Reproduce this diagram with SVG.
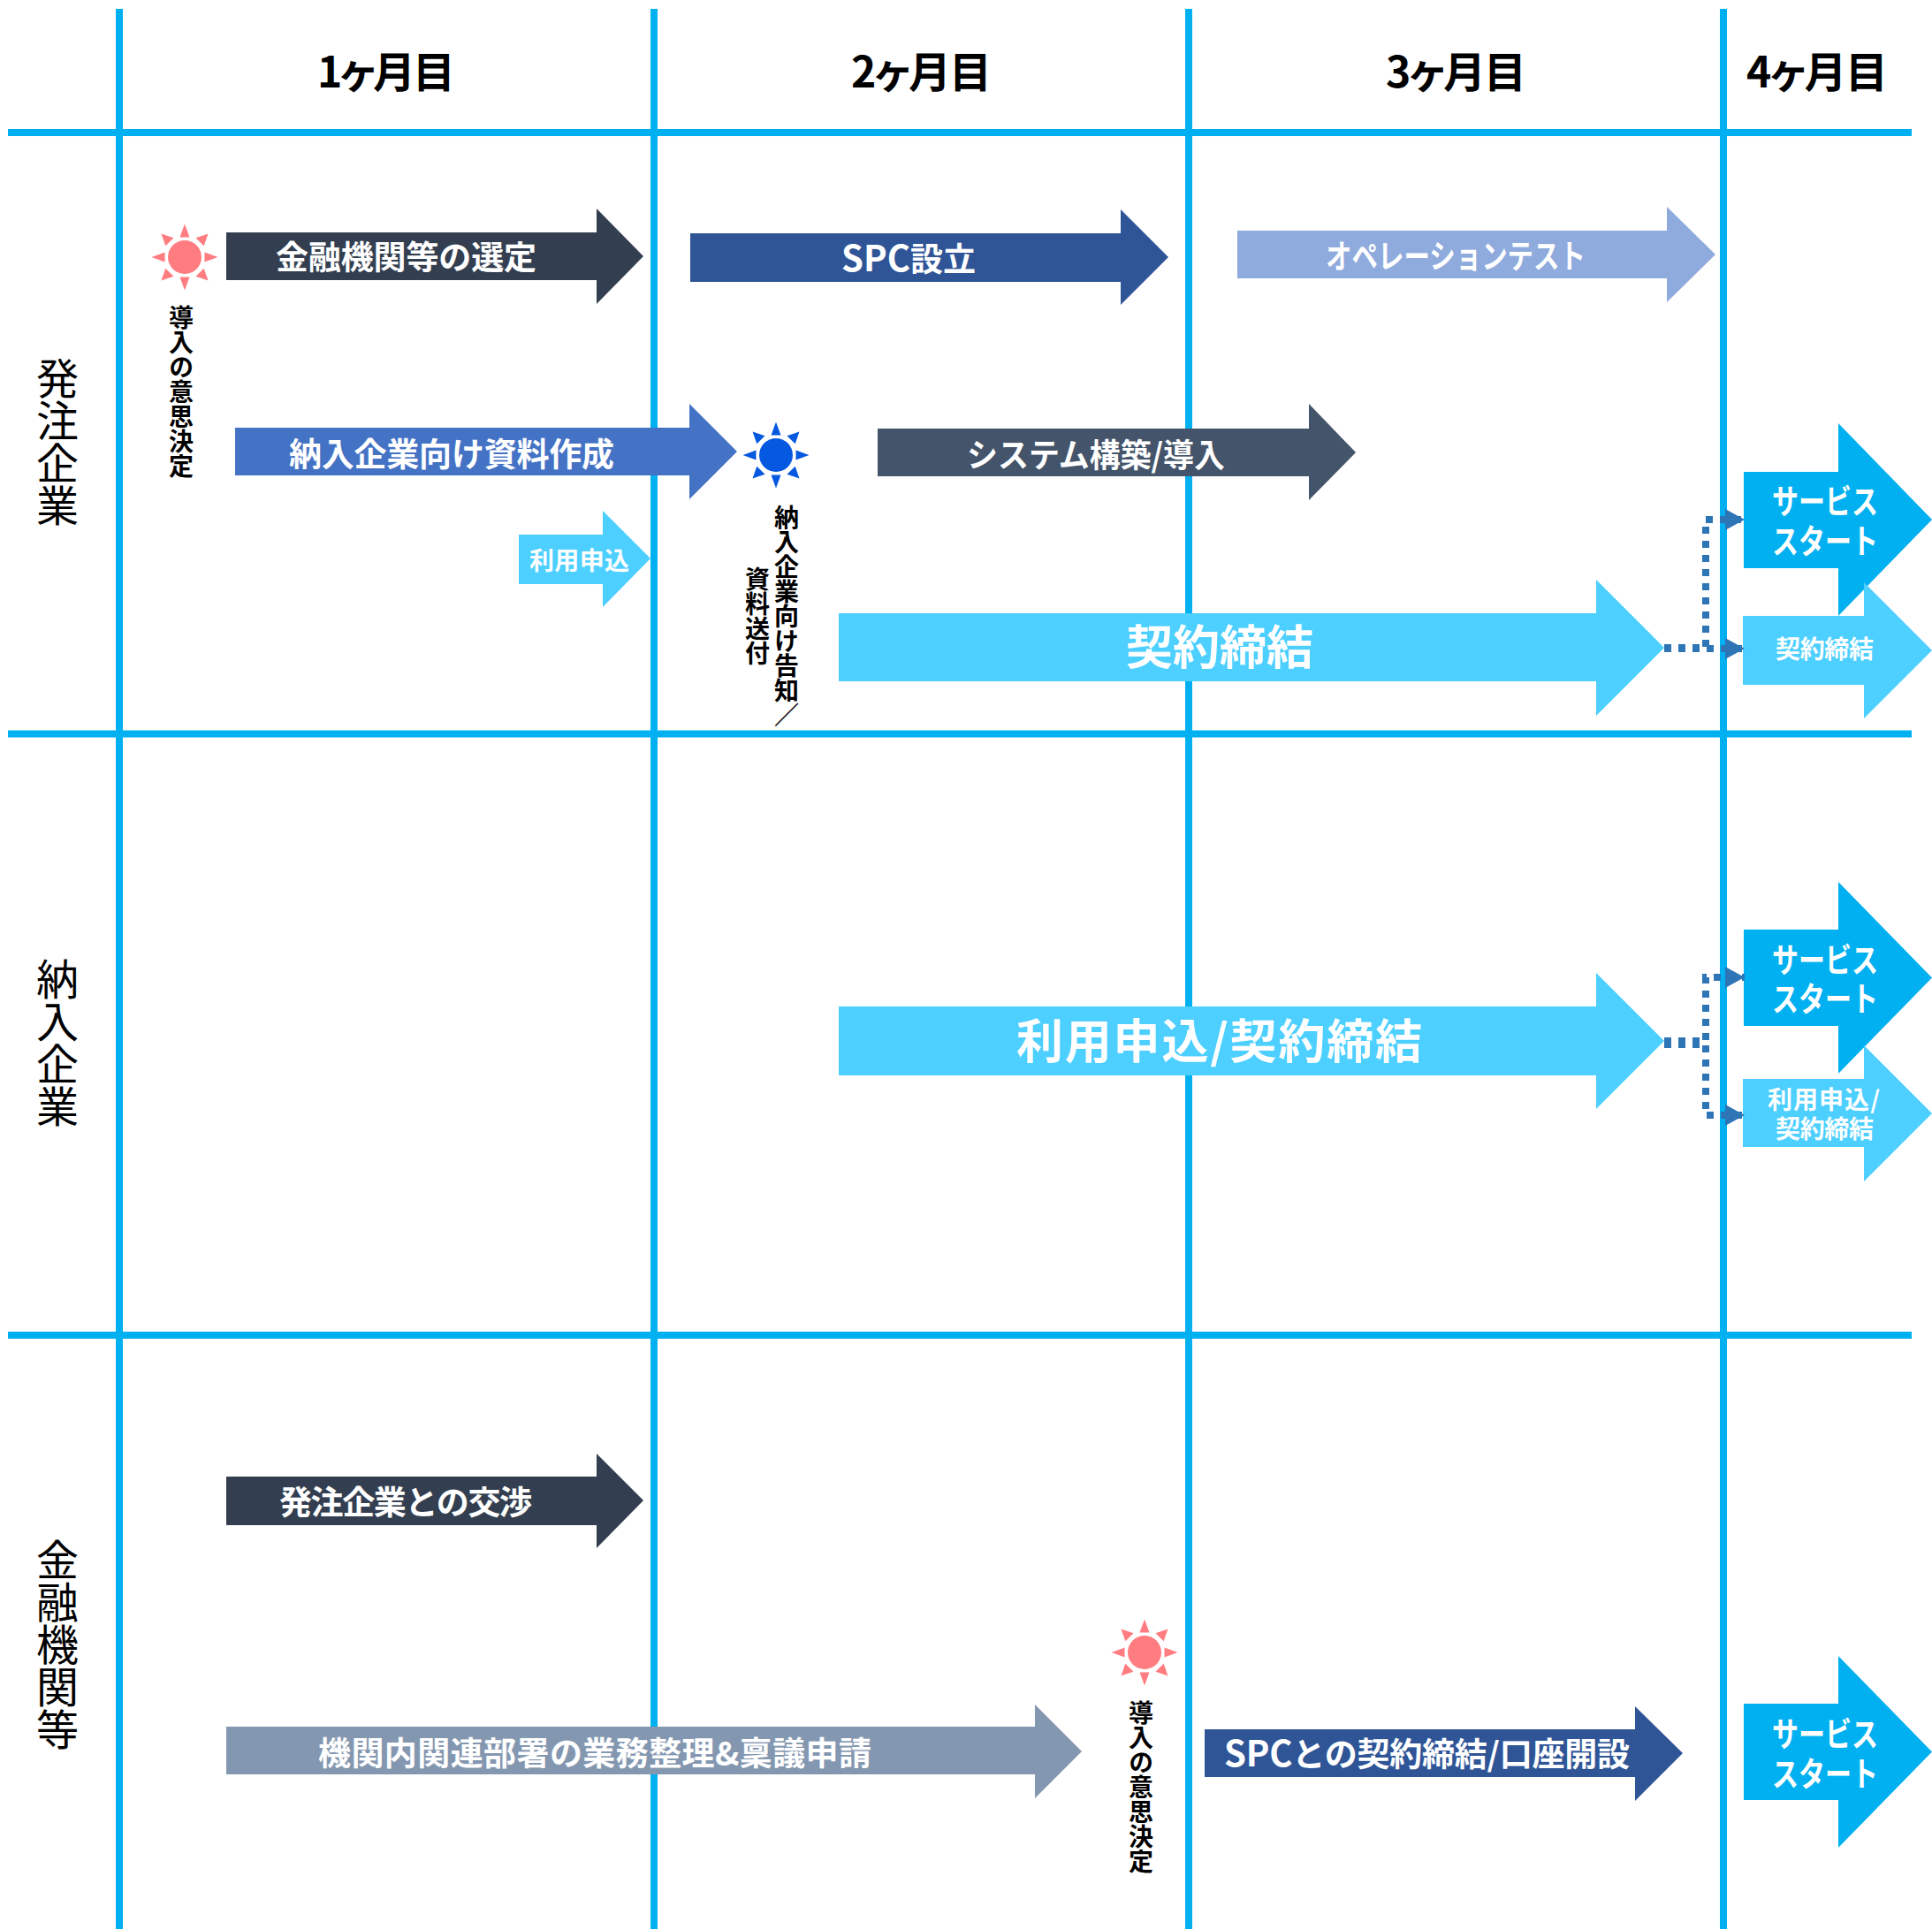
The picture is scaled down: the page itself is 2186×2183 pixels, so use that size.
<svg xmlns="http://www.w3.org/2000/svg" width="2186" height="2183" viewBox="0 0 2186 2183">
<style>
text{font-family:"Noto Sans CJK JP","Noto Sans",sans-serif}
.grid{stroke:#00B0F0;stroke-width:8;fill:none}
.w{fill:#fff;font-weight:700}
.f37{font-size:37px}.f28{font-size:28px}.f53{font-size:53px}.f38{font-size:38px}
.head{font-size:48px;font-weight:700;fill:#000;font-feature-settings:"palt"}
.row{font-size:48px;font-weight:400;fill:#000;writing-mode:vertical-rl;text-anchor:middle}
.vt{font-size:28px;font-weight:700;fill:#000;writing-mode:vertical-rl;text-anchor:middle}
.dot{stroke:#2E75B6;stroke-width:8;stroke-dasharray:8 8;fill:none}
.tri{fill:#2E75B6}
.dark{fill:#333F50}.navy{fill:#2F5597}.peri{fill:#8FAADC}.blue{fill:#4472C4}.slate{fill:#44546A}.light{fill:#4DCFFF}.cyan{fill:#00B0F0}.grey{fill:#8497B0}
</style>
<defs>
<marker id="tip" markerUnits="userSpaceOnUse" markerWidth="23" markerHeight="24" refX="22" refY="12" orient="auto"><path class="tri" d="M0 0L22 12L0 24Z"/></marker>
<g id="sun">
<circle r="19"/>
<path d="M0-37.500L5.500-22.500H-5.500ZM0 37.500L5.500 22.500H-5.500ZM-37.500 0L-22.500-5.500V5.500ZM37.500 0L22.500-5.500V5.500ZM-26.500-26.500L-12.500-21.700L-21.700-12.700ZM26.500-26.500L12.500-21.700L21.700-12.700ZM-26.500 26.500L-12.500 21.700L-21.700 12.700ZM26.500 26.500L12.500 21.700L21.700 12.700Z"/>
</g>
</defs>
<rect width="2186" height="2183" fill="#fff"/>
<g id="grid" class="grid">
<path d="M135 10V2183M740 10V2183M1345 10V2183M1950 10V2183"/>
<path d="M9 150H2163M9 830.500H2163M9 1511H2163"/>
</g>
<g id="headers">
<text class="head" x="359" y="99" textLength="156">1ヶ月目</text>
<text class="head" x="963" y="99" textLength="159">2ヶ月目</text>
<text class="head" x="1568" y="99" textLength="159">3ヶ月目</text>
<text class="head" x="1976" y="99" textLength="160">4ヶ月目</text>
</g>
<g id="rows">
<text class="row" x="65" y="500">発注企業</text>
<text class="row" x="65" y="1180">納入企業</text>
<text class="row" x="65" y="1861">金融機関等</text>
</g>
<g id="task-select"><polygon class="dark" points="256,263 675,263 675,236 728,290 675,344 675,317 256,317"/><text class="w f37" x="312" y="305" textLength="295">金融機関等の選定</text></g>
<g id="task-spc"><polygon class="navy" points="781,264 1268,264 1268,237 1322,291 1268,345 1268,319 781,319"/><text class="w f37" x="952" y="307" textLength="152"><tspan font-size="40">SPC</tspan>設立</text></g>
<g id="task-optest"><polygon class="peri" points="1400,261 1886,261 1886,234 1941,288 1886,342 1886,315 1400,315"/><text class="w f37" x="1500" y="304" textLength="294" lengthAdjust="spacingAndGlyphs">オペレーションテスト</text></g>
<g id="task-docs"><polygon class="blue" points="266,484 780,484 780,457 834,511 780,565 780,538 266,538"/><text class="w f37" x="327" y="528" textLength="368">納入企業向け資料作成</text></g>
<g id="task-system"><polygon class="slate" points="993,485 1481,485 1481,457 1534,512 1481,566 1481,539 993,539"/><text class="w f37" x="1094" y="529" textLength="292" lengthAdjust="spacingAndGlyphs">システム構築/導入</text></g>
<g id="task-apply"><polygon class="light" points="587,605 682,605 682,578 736,632 682,687 682,661 587,661"/><text class="w f28" x="599" y="645" textLength="113">利用申込</text></g>
<g id="task-contract"><polygon class="light" points="949,694 1806,694 1806,656 1883,733 1806,810 1806,771 949,771"/><text class="w f53" x="1274" y="752" textLength="212">契約締結</text></g>
<g id="start-1"><polygon class="cyan" points="1973,534 2080,534 2080,479 2186,588 2080,697 2080,643 1973,643"/><text class="w f38"><tspan x="2005" y="581" textLength="120" lengthAdjust="spacingAndGlyphs">サービス</tspan><tspan x="2005" y="626" textLength="120" lengthAdjust="spacingAndGlyphs">スタート</tspan></text></g>
<g id="contract-small"><polygon class="light" points="1972,697 2109,697 2109,659 2186,736 2109,813 2109,775 1972,775"/><text class="w f28" x="2009" y="745" textLength="111">契約締結</text></g>
<g id="task-apply-contract"><polygon class="light" points="949,1139 1806,1139 1806,1101 1883,1178 1806,1255 1806,1217 949,1217"/><text class="w f53" x="1150" y="1198" textLength="459">利用申込/契約締結</text></g>
<g id="start-2"><polygon class="cyan" points="1973,1052 2080,1052 2080,998 2186,1106.500 2080,1215 2080,1161 1973,1161"/><text class="w f38"><tspan x="2005" y="1100" textLength="120" lengthAdjust="spacingAndGlyphs">サービス</tspan><tspan x="2005" y="1144" textLength="120" lengthAdjust="spacingAndGlyphs">スタート</tspan></text></g>
<g id="apply-contract-small"><polygon class="light" points="1972,1221 2109,1221 2109,1183 2186,1260 2109,1337 2109,1298 1972,1298"/><text class="w f28"><tspan x="2000" y="1255" textLength="127">利用申込/</tspan><tspan x="2009" y="1288" textLength="111">契約締結</tspan></text></g>
<g id="task-negotiate"><polygon class="dark" points="256,1671 675,1671 675,1645 728,1698 675,1752 675,1726 256,1726"/><text class="w f37" x="316" y="1714" textLength="286">発注企業との交渉</text></g>
<g id="task-approval"><polygon class="grey" points="256,1954 1171,1954 1171,1929 1224,1982 1171,2035 1171,2008 256,2008"/><text class="w f37" x="360" y="1998" textLength="626">機関内関連部署の業務整理&amp;稟議申請</text></g>
<g id="task-account"><polygon class="navy" points="1363,1957 1850,1957 1850,1931 1904,1984 1850,2038 1850,2011 1363,2011"/><text class="w f37" x="1385" y="1999" textLength="459"><tspan font-size="40">SPC</tspan>との契約締結/口座開設</text></g>
<g id="start-3"><polygon class="cyan" points="1973,1928 2080,1928 2080,1874 2186,1982.500 2080,2091 2080,2037 1973,2037"/><text class="w f38"><tspan x="2005" y="1976" textLength="120" lengthAdjust="spacingAndGlyphs">サービス</tspan><tspan x="2005" y="2021" textLength="120" lengthAdjust="spacingAndGlyphs">スタート</tspan></text></g>
<g id="sun-1"><use href="#sun" x="209" y="291" fill="#FF7C80"/><text class="vt" x="205" y="443">導入の意思決定</text></g>
<g id="sun-2"><use href="#sun" x="878" y="515" fill="#0558E0"/><text class="vt" x="890" y="697">納入企業向け告知／</text><text class="vt" x="857" y="697">資料送付</text></g>
<g id="sun-3"><use href="#sun" x="1295" y="1870" fill="#FF7C80"/><text class="vt" x="1291" y="2022">導入の意思決定</text></g>
<g id="connectors">
<path class="dot" marker-end="url(#tip)" d="M1883 733H1930V588H1974"/>
<path class="dot" marker-end="url(#tip)" d="M1883 734H1974"/>
<path class="dot" marker-end="url(#tip)" d="M1883 1178H1930V1106H1974"/>
<path class="dot" marker-end="url(#tip)" d="M1883 1182H1930V1262H1974"/>
</g>
</svg>
